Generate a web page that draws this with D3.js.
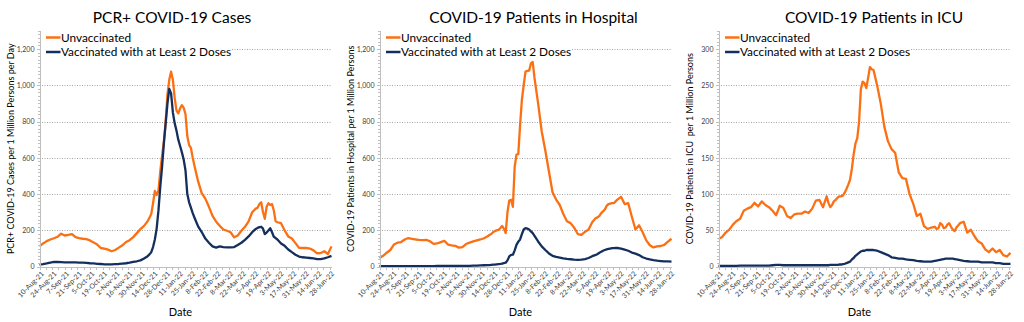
<!DOCTYPE html>
<html>
<head>
<meta charset="utf-8">
<script src="https://d3js.org/d3.v7.min.js"></script>
<style>
    body { margin: 0; background: #ffffff; }
    #chart .font { font-family: Lato, "Open Sans", sans-serif; }
    #chart .title { font-size: 15.5px; fill: #000000; }
    #chart .legend { font-size: 11.8px; fill: #000000; }
    #chart .axis path,
    #chart .axis line { stroke: #bfbfbf; shape-rendering: crispEdges; }
    #chart .axis text { font-family: Lato, "Open Sans", sans-serif; font-size: 7px; fill: #404040; }
    #chart .grid line { stroke: #a6a6a6; stroke-dasharray: 1, 1.5; }
    #chart .y-label { font-size: 9px; fill: #000000; white-space: pre; }
    #chart .x-label { font-size: 11px; fill: #000000; }
    #chart .line { fill: none; stroke-width: 2.3; stroke-linejoin: round; }
</style>
</head>
<body>
<svg id="chart" width="1024" height="322"></svg>
<script>
    const START_DATE = "10-Aug-21";
    const END_DATE = "30-Jun-22";
    const DAY_OFFSETS = [
        0, 4, 8, 12, 16, 20, 24, 28, 32, 36, 40, 44, 48, 52, 56, 60, 64, 68, 72, 76, 80, 84, 88, 92, 96, 100, 104, 108, 112, 116,
        120, 122, 124, 126, 128, 130, 132, 134, 136, 138, 140, 142, 144, 146, 148, 150, 152, 154, 156, 158, 160, 162, 164, 166, 168, 170,
        172, 176, 180, 184, 188, 192, 196, 200, 204, 208, 212, 216, 220, 224, 228, 232, 236,
        240, 242, 244, 246, 248, 250, 252, 254, 256, 258, 260, 262, 264,
        268, 272, 276, 280, 284, 288, 292, 296, 300, 304, 308, 312, 316, 320, 324
    ];
    const SERIES_NAMES = ["Unvaccinated", "Vaccinated with at Least 2 Doses"];
    const SERIES_COLORS = ["#fb7013", "#142f5e"];

    const CASES_UNVAX = [
        112, 128, 141, 150, 157, 165, 182, 172, 175, 180, 163, 157, 154, 152, 145, 134, 122, 103, 100, 94, 85, 92, 105, 118, 136, 146, 163, 185, 207, 225,
        250, 270, 290, 350, 418, 395, 420, 525, 610, 690, 800, 950, 1030, 1075, 1030, 930, 860, 845, 873, 890, 875, 840, 720, 670, 655, 600,
        555, 470, 405, 375, 330, 280, 248, 225, 205, 198, 190, 162, 172, 198, 220, 250, 300,
        320, 325, 345, 355, 300, 264, 330, 350, 340, 345, 310, 250, 245,
        240, 200, 167, 155, 130, 104, 103, 103, 100, 90, 74, 75, 85, 70, 112
    ];
    const CASES_VAX = [
        11, 14, 18, 23, 26, 26, 25, 24, 24, 24, 24, 23, 22, 21, 19, 18, 16, 15, 13, 13, 13, 14, 15, 17, 19, 22, 26, 30, 35, 45,
        58, 68, 80, 108, 150, 210, 310, 440, 550, 680, 790, 900, 980, 955, 850, 790, 750, 700, 665, 630, 590, 530, 400, 355, 325, 295,
        270, 222, 191, 155, 132, 112, 105, 112, 108, 106, 106, 108, 120, 132, 148, 167, 190,
        208, 214, 218, 220, 210, 180, 188, 200, 212, 190, 165, 158, 150,
        128, 115, 95, 80, 66, 56, 52, 50, 48, 46, 42, 42, 46, 52, 60
    ];
    const HOSP_UNVAX = [
        48, 60, 77, 92, 122, 132, 136, 150, 158, 154, 150, 148, 147, 148, 140, 126, 128, 135, 142, 122, 118, 115, 105, 108, 125, 133, 140, 145, 150, 157,
        168, 175, 180, 190, 196, 200, 203, 212, 225, 210, 185, 300, 365, 369, 330, 550, 618, 620, 780, 920, 1000, 1075, 1079, 1080, 1120, 1128,
        1040, 900, 745, 640, 525, 410, 370, 340, 290, 250, 240, 215, 180, 175, 192, 205, 245,
        268, 272, 280, 295, 305, 315, 335, 345, 348, 350, 350, 360, 370,
        385, 345, 350, 275, 205, 228, 190, 145, 118, 106, 112, 114, 120, 138, 154
    ];
    const HOSP_VAX = [
        3, 3, 3, 3, 3, 3, 3, 3, 3, 3, 3, 3, 3, 3, 3, 3, 4, 4, 4, 4, 5, 5, 5, 5, 5, 5, 6, 6, 7, 8,
        9, 9, 10, 11, 12, 13, 14, 15, 17, 20, 22, 35, 57, 65, 66, 90, 120, 138, 150, 180, 205, 213, 210, 205, 195, 185,
        170, 139, 112, 92, 73, 60, 54, 50, 46, 43, 41, 39, 38, 39, 42, 48, 58,
        65, 70, 77, 82, 88, 92, 95, 98, 100, 102, 102, 103, 103,
        100, 94, 88, 78, 72, 64, 52, 45, 40, 36, 33, 31, 29, 29, 28
    ];
    const ICU_UNVAX = [
        38, 41, 47, 51, 58, 63, 66, 77, 80, 82, 88, 83, 90, 85, 82, 77, 71, 84, 81, 70, 67, 72, 73, 73, 76, 74, 80, 91, 92, 82,
        97, 88, 82, 85, 90, 92, 95, 97, 97, 98, 102, 107, 113, 120, 135, 155, 170, 177, 200, 245, 255, 253, 246, 260, 275, 272,
        271, 250, 225, 193, 173, 162, 157, 130, 122, 121, 100, 87, 70, 73, 56, 52, 54,
        55, 52, 53, 60, 58, 53, 54, 58, 60, 55, 51, 49, 54,
        60, 62, 47, 51, 42, 35, 32, 24, 20, 25, 20, 23, 16, 14, 19
    ];
    const ICU_VAX = [
        1, 1, 1, 1, 1, 1, 1.5, 1.5, 1.5, 1.5, 1.5, 1.5, 1.5, 1.5, 1.5, 2, 2.5, 2.5, 2, 2, 2, 2, 2, 2, 2, 2, 2, 2, 2, 2,
        2, 2, 2.5, 2.5, 2.5, 2.5, 2.5, 3, 3, 3.5, 4, 5, 6, 7, 10, 12, 15, 17, 19, 21, 22, 22, 23, 23, 23, 23,
        23, 22, 20, 18, 16, 13, 12, 11, 11, 10, 9.5, 9, 8, 7.5, 7, 7, 7,
        8, 8.5, 9, 9.5, 10, 10.5, 11, 11, 11, 11, 11, 10.5, 10,
        9, 8, 7.5, 7, 7, 7, 6, 6, 6, 6, 5, 5, 4, 4, 4
    ];

    const PANEL_TITLES = ["PCR+ COVID-19 Cases", "COVID-19 Patients in Hospital", "COVID-19 Patients in ICU"];
    const Y_LABELS = [
        "PCR+ COVID-19 Cases per 1 Million Persons per Day",
        "COVID-19 Patients in Hospital per 1 Million Persons",
        "COVID-19 Patients in ICU  per 1 Million Persons"
    ];
    const Y_MAX = [1300, 1300, 325];
    const Y_MAJOR = [200, 200, 50];
    const X_LABEL = "Date";

    const PLOT_LEFT = [39.5, 379.5, 718.5];
    const PLOT_WIDTH = 292;
    const PLOT_TOP = 30.8;
    const PLOT_BOTTOM = 266.7;
    const TITLE_X = [172, 533.5, 874];

    var dateParse = d3.timeParse("%d-%b-%y");
    var startDate = dateParse(START_DATE);
    var endDate = dateParse(END_DATE);
    var dates = DAY_OFFSETS.map(function(d) { return d3.timeDay.offset(startDate, d); });

    var panels = [
        {values: [CASES_UNVAX, CASES_VAX]},
        {values: [HOSP_UNVAX, HOSP_VAX]},
        {values: [ICU_UNVAX, ICU_VAX]}
    ];

    var svg = d3.select("#chart");
    svg.append("rect").attr("width", 1024).attr("height", 322).attr("fill", "#ffffff");

    var weekTicks = d3.timeDay.range(startDate, d3.timeDay.offset(startDate, 323), 7);
    var labelFormat = d3.timeFormat("%-d-%b-%y");

    panels.forEach(function(panel, p) {
        var left = PLOT_LEFT[p];
        var g = svg.append("g");

        var x = d3.scaleTime()
            .domain([startDate, endDate])
            .range([left, left + PLOT_WIDTH]);
        var y = d3.scaleLinear()
            .domain([0, Y_MAX[p]])
            .range([PLOT_BOTTOM, PLOT_TOP]);

        var majors = d3.range(Y_MAJOR[p], Y_MAX[p] + 0.1, Y_MAJOR[p]).filter(function(v) { return v < Y_MAX[p]; });
        var minors = d3.range(0, Y_MAX[p] + 0.1, Y_MAJOR[p] / 10);

        // dotted gridlines
        g.append("g")
            .classed("grid", true)
            .selectAll("line")
            .data(majors)
            .enter()
            .append("line")
            .attr("x1", left)
            .attr("x2", left + PLOT_WIDTH)
            .attr("y1", function(d) { return Math.round(y(d)) + 0.5; })
            .attr("y2", function(d) { return Math.round(y(d)) + 0.5; });

        // lines
        panel.values.forEach(function(vals, s) {
            var line = d3.line()
                .x(function(d, i) { return x(dates[i]); })
                .y(function(d) { return y(d); });
            g.append("path")
                .datum(vals)
                .classed("line", true)
                .attr("stroke", SERIES_COLORS[s])
                .attr("d", line);
        });

        // legend box hides the gridlines behind it
        g.append("rect")
            .attr("x", left + 1.5)
            .attr("y", 28)
            .attr("width", 190)
            .attr("height", 30)
            .attr("fill", "#ffffff");
        SERIES_NAMES.forEach(function(name, s) {
            var ly = 37.5 + s * 14.5;
            g.append("line")
                .attr("x1", left + 6.5)
                .attr("x2", left + 21)
                .attr("y1", ly)
                .attr("y2", ly)
                .attr("stroke", SERIES_COLORS[s])
                .attr("stroke-width", 2.5);
            g.append("text")
                .classed("legend font", true)
                .attr("x", left + 21.5)
                .attr("y", ly + 4.2)
                .text(name);
        });

        // y axis: minor ticks then labelled majors
        g.append("g")
            .classed("axis", true)
            .attr("transform", "translate(" + left + ",0)")
            .call(d3.axisLeft(y).tickValues(minors).tickSize(2).tickFormat(""));
        var yAxisGroup = g.append("g")
            .classed("axis", true)
            .attr("transform", "translate(" + left + ",0)")
            .call(d3.axisLeft(y)
                .tickValues([0].concat(majors))
                .tickSize(3)
                .tickPadding(2)
                .tickFormat(d3.format(",")));
        yAxisGroup.select(".domain").remove();

        // x axis
        var xAxisGroup = g.append("g")
            .classed("axis", true)
            .attr("transform", "translate(0," + PLOT_BOTTOM + ")")
            .call(d3.axisBottom(x)
                .tickValues(weekTicks)
                .tickSize(3)
                .tickSizeOuter(0)
                .tickFormat(function(d, i) { return i % 2 === 0 ? labelFormat(d) : ""; }));
        xAxisGroup.selectAll("text")
            .attr("text-anchor", "end")
            .attr("transform", "rotate(-45)")
            .attr("dx", "-0.3em")
            .attr("dy", "0.35em");

        // titles and axis labels
        g.append("text")
            .classed("title font", true)
            .attr("x", TITLE_X[p])
            .attr("y", 23)
            .attr("text-anchor", "middle")
            .text(PANEL_TITLES[p]);
        g.append("text")
            .classed("y-label font", true)
            .attr("transform", "translate(" + (left - 26) + "," + ((PLOT_TOP + PLOT_BOTTOM) / 2) + ") rotate(-90)")
            .attr("text-anchor", "middle")
            .text(Y_LABELS[p]);
        g.append("text")
            .classed("x-label font", true)
            .attr("x", left + 141)
            .attr("y", 316)
            .attr("text-anchor", "middle")
            .text(X_LABEL);
    });
</script>
</body>
</html>
